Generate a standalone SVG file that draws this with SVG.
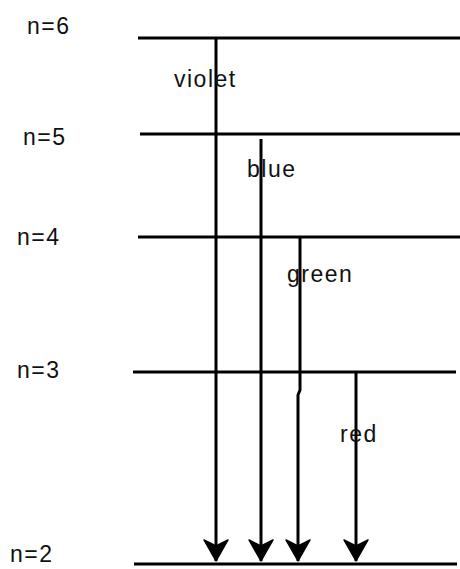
<svg xmlns="http://www.w3.org/2000/svg" width="460" height="569" viewBox="0 0 460 569">
<style>
.lvl{stroke:#000;stroke-width:3;fill:none}
.tr{stroke:#000;stroke-width:3;fill:none}
text{font-family:"Liberation Sans",Arial,sans-serif;font-size:23px;fill:#111;letter-spacing:1.5px}
</style>
<defs>
<marker id="ah" markerUnits="userSpaceOnUse" markerWidth="26" markerHeight="30" viewBox="-23 -15 26 30" refX="0" refY="0" orient="auto">
<path d="M0,0 L-21,-12 L-15,0 L-21,12 Z" fill="#000" stroke="#000" stroke-width="1.5" stroke-linejoin="round"/>
</marker>
</defs>
<rect width="460" height="569" fill="#fff"/>
<g id="level-n6"><line class="lvl" x1="138" y1="38" x2="460" y2="38"/><text x="27" y="34">n=6</text></g>
<g id="level-n5"><line class="lvl" x1="140" y1="134" x2="460" y2="134"/><text x="23" y="145">n=5</text></g>
<g id="level-n4"><line class="lvl" x1="138" y1="237" x2="460" y2="237"/><text x="17" y="245">n=4</text></g>
<g id="level-n3"><line class="lvl" x1="133" y1="372" x2="456" y2="372"/><text x="17" y="378">n=3</text></g>
<g id="level-n2"><line class="lvl" x1="134" y1="564" x2="457" y2="564"/><text x="10" y="562">n=2</text></g>
<g id="connectors">
<path class="tr" d="M216,38 V561" marker-end="url(#ah)"/>
<path class="tr" d="M261,139 V561" marker-end="url(#ah)"/>
<path class="tr" d="M300,237 V390 L298,395 V561" marker-end="url(#ah)"/>
<path class="tr" d="M356,372 V561" marker-end="url(#ah)"/>
<text x="174" y="87">violet</text>
<text x="247" y="177">blue</text>
<text x="287" y="282">green</text>
<text x="340" y="442">red</text>
</g>
</svg>
